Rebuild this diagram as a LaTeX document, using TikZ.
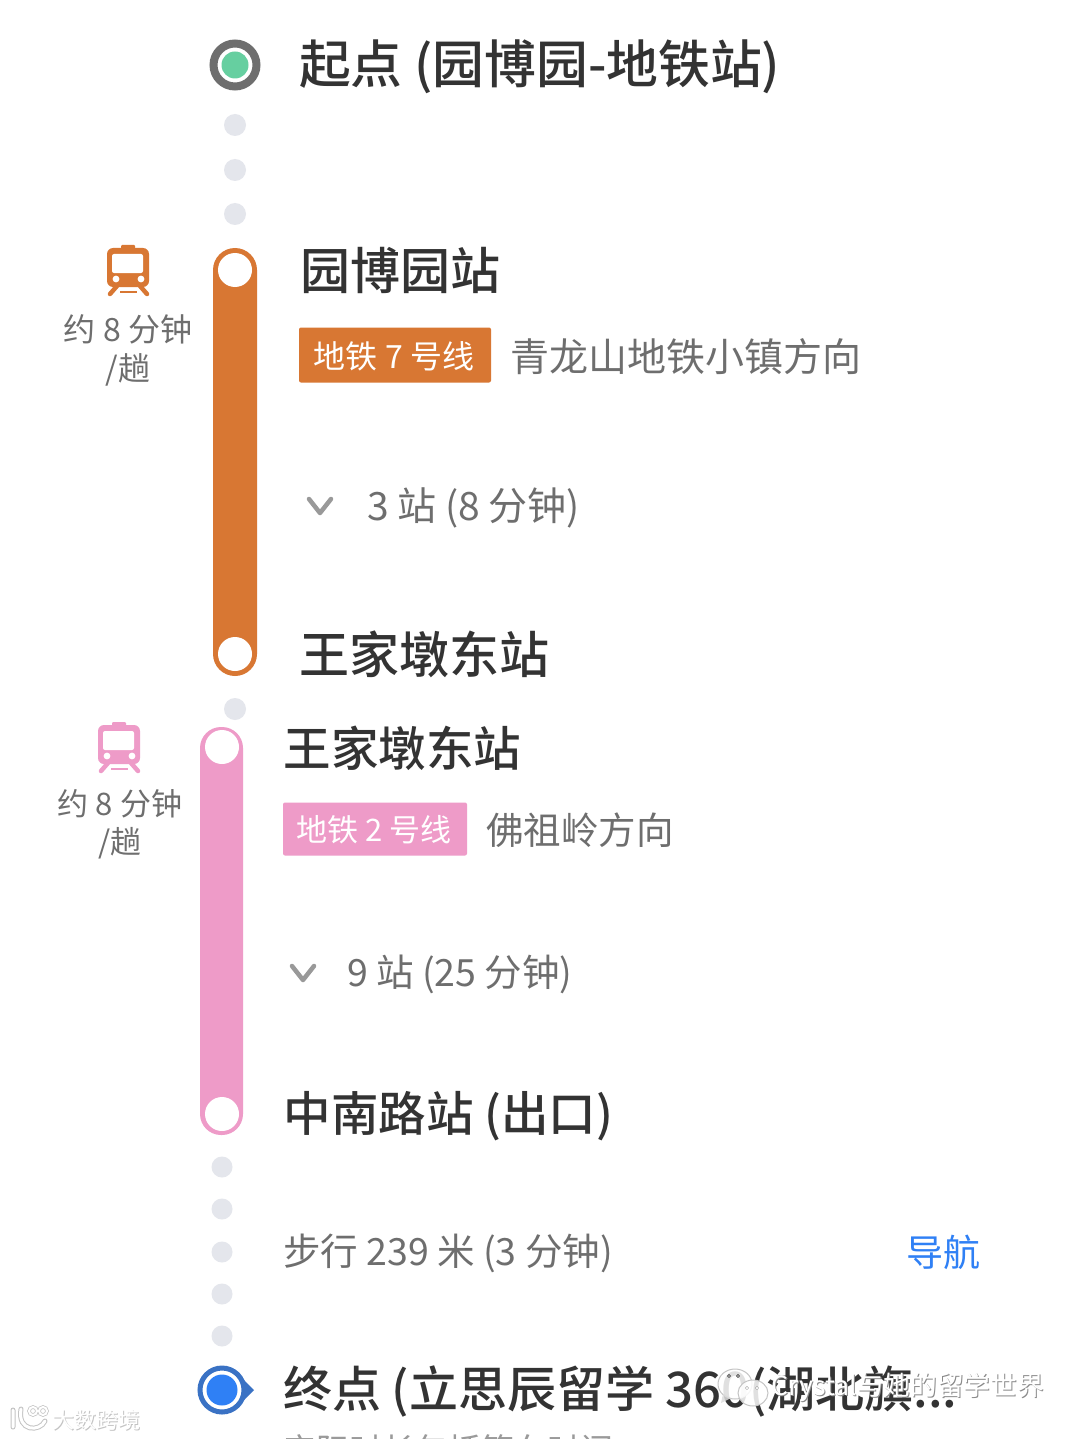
\documentclass[tikz,border=0pt]{standalone}
\usepackage{fontspec}
\setmainfont[BoldFont={Noto Sans CJK SC Medium}]{Noto Sans CJK SC}
\usetikzlibrary{shapes.geometric}
\definecolor{ora}{HTML}{D87733}
\definecolor{pnk}{HTML}{EE9BC8}
\definecolor{dotc}{HTML}{E4E6EC}
\definecolor{ink}{HTML}{333333}
\definecolor{gry}{HTML}{6E6E6E}
\definecolor{blu}{HTML}{2F80F5}
\definecolor{mint}{HTML}{66CFA0}
\definecolor{ringb}{HTML}{3A72C4}
\definecolor{shade}{HTML}{8A8A8A}
\definecolor{softshade}{HTML}{C4C4C4}
\tikzset{
  txt/.style={anchor=west,inner sep=0pt,outer sep=0pt,text=ink},
  big/.style={txt,font=\fontsize{50}{50}\selectfont\bfseries},
  mid/.style={txt,font=\fontsize{47.5}{48}\selectfont\bfseries},
  sub/.style={txt,text=gry,font=\fontsize{39}{39}\selectfont},
  subb/.style={txt,text=gry,font=\fontsize{37.5}{38}\selectfont},
  tag/.style={anchor=center,inner sep=0pt,text=white},
  dur/.style={anchor=center,inner sep=0pt,text=gry,font=\fontsize{32}{32}\selectfont},
  waydot/.style={circle,fill=dotc,inner sep=0pt,minimum size=22pt},
  hole/.style={circle,fill=white,inner sep=0pt,minimum size=34pt},
  chev/.style={line width=4.5pt,draw=gry!70,line cap=round,line join=round},
  wmark/.style={txt,text=white,font=\fontsize{26.7}{27}\selectfont},
  wshade/.style={txt,text=shade,font=\fontsize{26.7}{27}\selectfont}
}
\newcommand{\trainicon}[3]{%
 \begin{scope}[shift={(#1,#2)}]
  \fill[#3,rounded corners=6pt] (-21,-23) rectangle (21,16);
  \fill[#3,rounded corners=1pt] (-7,-26) rectangle (7,-20);
  \fill[white,rounded corners=2pt] (-16,-17) rectangle (15,2);
  \fill[white] (-12,8) circle (3.4);
  \fill[white] (13,8) circle (3.4);
  \draw[#3,line width=4.5pt,line cap=round] (-11,15) -- (-18,23);
  \draw[#3,line width=4.5pt,line cap=round] (12,15) -- (19,23);
  \draw[#3,line width=2.5pt] (-8,21) -- (9,21);
 \end{scope}}
\begin{document}
\begin{tikzpicture}[x=1pt,y=-1pt]
\useasboundingbox[fill=white] (0,0) rectangle (1080,1439);
% start marker
\node[circle,draw=gry,line width=8pt,fill=white,minimum size=43pt,inner sep=0pt] (start) at (235,65) {};
\node[circle,fill=mint,inner sep=0pt,minimum size=27pt] (startin) at (235,65) {};
\node[big,font=\fontsize{51.8}{52}\selectfont\bfseries] (t1) at (299,67) {起点 (园博园-地铁站)};
\node[waydot] (d1) at (235,125) {};
\node[waydot] (d2) at (235,170) {};
\node[waydot] (d3) at (235,214) {};
% orange line
\fill[ora,rounded corners=22pt] (213,248) rectangle (257,676);
\node[hole] (o1) at (235,270) {};
\node[hole] (o2) at (235,654) {};
\trainicon{128}{271}{ora}
\node[dur] (oa) at (128,329) {约 8 分钟};
\node[dur] (ob) at (128,370) {/趟};
\node[big] (t2) at (300,270) {园博园站};
\node[fill=ora,rounded corners=2pt,minimum width=192pt,minimum height=55pt,anchor=center,inner sep=0pt] (tag1) at (395,355) {};
\node[tag,font=\fontsize{32}{32}\selectfont] at (394,356) {地铁 7 号线};
\node[sub] (t3) at (510.5,357) {青龙山地铁小镇方向};
\draw[chev] (309,499) -- (320,513) -- (331,499);
\node[sub] (t4) at (367,508) {3 站 (8 分钟)};
\node[big] (t5) at (299.5,654) {王家墩东站};
\node[waydot] (d4) at (235,709) {};
% pink line
\fill[pnk,rounded corners=21pt] (200,727) rectangle (243,1135);
\node[hole] (p1) at (222,747) {};
\node[hole] (p2) at (222,1114) {};
\trainicon{119}{748}{pnk}
\node[dur,font=\fontsize{31}{31}\selectfont] (pa) at (120,804) {约 8 分钟};
\node[dur,font=\fontsize{31}{31}\selectfont] (pb) at (120,843) {/趟};
\node[mid] (t6) at (283.5,748) {王家墩东站};
\node[fill=pnk,rounded corners=2pt,minimum width=184pt,minimum height=53pt,anchor=center,inner sep=0pt] (tag2) at (375,829) {};
\node[tag,font=\fontsize{31}{31}\selectfont] at (374,830) {地铁 2 号线};
\node[sub,font=\fontsize{37.5}{38}\selectfont] (t7) at (486,830) {佛祖岭方向};
\draw[chev] (292,966) -- (303,980) -- (314,966);
\node[subb] (t8) at (347,974) {9 站 (25 分钟)};
\node[mid] (t9) at (283.5,1116) {中南路站 (出口)};
\node[waydot,minimum size=21pt] (d5) at (222,1167) {};
\node[waydot,minimum size=21pt] (d6) at (222,1209) {};
\node[waydot,minimum size=21pt] (d7) at (222,1252) {};
\node[waydot,minimum size=21pt] (d8) at (222,1294) {};
\node[waydot,minimum size=21pt] (d9) at (222,1336) {};
\node[subb] (t10) at (283,1253) {步行 239 米 (3 分钟)};
\node[txt,text=blu,font=\fontsize{37}{37}\selectfont] (nav) at (906,1252) {导航};
% end marker
\fill[ringb] (254,1390) -- (240,1376) -- (240,1404) -- cycle;
\node[circle,draw=ringb,line width=5pt,fill=white,minimum size=44pt,inner sep=0pt] (end) at (222,1390) {};
\node[circle,fill=blu,inner sep=0pt,minimum size=31pt] (endin) at (222,1390) {};
\node[mid,font=\fontsize{49}{49}\selectfont\bfseries] (t11) at (283,1391) {终点 (立思辰留学 360(湖北旗...};
\node[txt,text=gry!70,font=\fontsize{33}{33}\selectfont] (t12) at (283,1450) {实际时长包括等车时间};
% watermarks
\draw[softshade,line width=1pt,fill=white,fill opacity=.85] (735,1384) ellipse (17 and 15);
\fill[softshade!60,opacity=.85] (723,1394) -- (721,1403) -- (731,1398) -- cycle;
\draw[softshade,line width=1pt,fill=white,fill opacity=.85] (753,1393) ellipse (15 and 13);
\fill[shade] (729,1376) circle (1.8) (738,1376) circle (1.8) (747,1388) circle (1.6) (757,1388) circle (1.6);
\node[wshade] (wm1s) at (772,1388.5) {Crystal与她的留学世界};
\node[wmark] (wm1) at (771,1387.5) {Crystal与她的留学世界};
\node[wshade,text=softshade,font=\fontsize{22}{22}\selectfont] (wm2s) at (53,1421) {大数跨境};
\node[wmark,font=\fontsize{22}{22}\selectfont] (wm2) at (52,1420) {大数跨境};
\draw[softshade,line width=5pt,line cap=round] (13,1410) -- (13,1427) (21,1409) .. controls (17,1432) and (40,1432) .. (45,1421);
\draw[white,line width=3pt,line cap=round] (13,1410) -- (13,1427) (21,1409) .. controls (17,1432) and (40,1432) .. (45,1421);
\draw[softshade,line width=3.5pt] (33,1411) circle (4) (43,1411) circle (4);
\draw[white,line width=2pt] (33,1411) circle (4) (43,1411) circle (4);
\end{tikzpicture}
\end{document}
